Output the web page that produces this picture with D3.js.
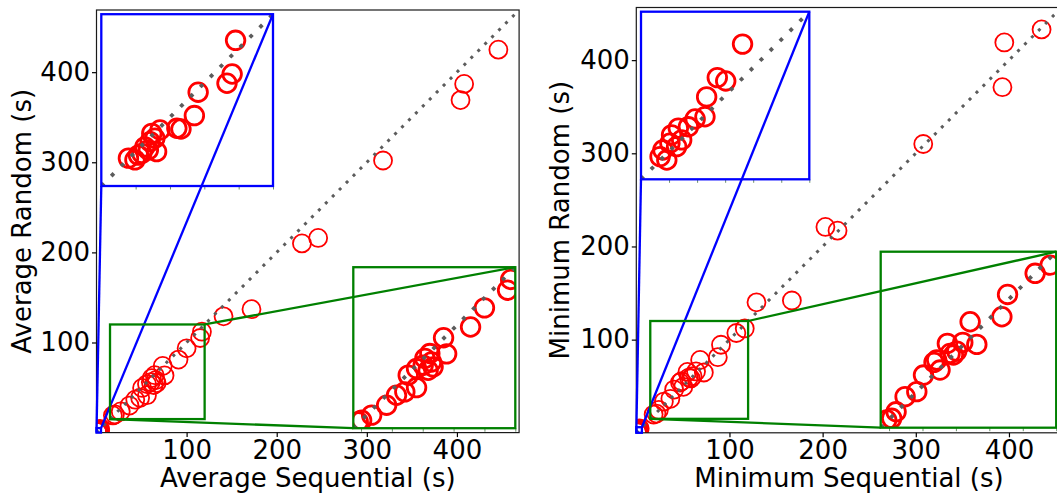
<!DOCTYPE html>
<html><head><meta charset="utf-8">
<script src="https://cdn.jsdelivr.net/npm/d3@7"></script>
<style>body{margin:0;background:#fff;} svg{display:block;font-family:"DejaVu Sans",sans-serif;}</style>
</head><body><svg id="c" width="1057" height="498"></svg>
<script>
// ---- data (seconds) ----
const avgSeq  = [446,408,404,318,228,246,172,141,
  117,115,100,91,73.5,75.5,64.6,61.4,65.7,60.3,66.7,56,63.5,50.6,56,48.4,43,36.6,26.9,20.4,18.2,
  3.91,3.81,3.66,2.82,2.71,2.2,2.32,1.71,1.61,1.47,1.56,1.42,1.27,1.37,1.18,1.08,0.98,0.79];
const avgRand = [425,387,369,302,210,216,137,129,
  112,105,93.5,81,74,63.5,63.7,60.5,58.2,56.1,55,53.9,52.8,49.6,41.5,38.7,36.5,30,23.5,20.2,19.1,
  4.24,3.26,2.99,2.73,2.05,1.68,1.66,1.63,1.0,1.53,1.39,1.29,1.14,1.05,0.95,0.90,0.76,0.81];
const minSeq  = [435,395,393,308,203,216,129,167,
  116.4,107.4,90.9,87.5,68.5,72.5,64.1,54.9,60.5,56.5,58.5,48.5,46.9,50.5,40.6,36.6,29.6,24.2,18.6,21.6,
  3.62,2.72,3.02,2.34,2.28,1.93,1.69,1.33,1.45,1.09,1.03,1.27,0.78,0.92,0.68];
const minRand = [433,419,371,310,221,217,140,142,
  112,107.1,94.5,81.2,78.2,64.7,65.9,65.3,60.7,59.3,58.4,55.4,54,49.4,46.4,36.5,33.5,24.5,19.6,20.6,
  4.84,3.64,3.52,2.95,2.24,2.16,1.88,1.83,1.41,1.59,1.29,1.17,1.05,0.69,0.81];
const mainTicks = [100,200,300,400];
const blueTicksAvg = [1,2,3,4,5];
const blueTicksMin = [1,2,3,4,5,6];
const greenTicks = [20,40,60,80,100,120];
const blueRangeAvg = [0,5];
const blueRangeMin = [0,6];
const greenRange = [15,120];
const xLabels = ["Average Sequential (s)","Minimum Sequential (s)"];
const yLabels = ["Average Random (s)","Minimum Random (s)"];
const axisMax = [469,456.5];

// ---- layout ----
const layout = [
  {left:96.5, top:10, size:422.6, labelX:31, blueBox:[101.3,14.2,171.7,171.8], greenBox:[353.3,267.2,162,161]},
  {left:636.3, top:7.5, size:425.3, labelX:569, blueBox:[641,11.7,168.3,167.6], greenBox:[880.7,251.7,175.5,176]}
];
const panels = [
  {seq:avgSeq, rand:avgRand, max:axisMax[0], xl:xLabels[0], yl:yLabels[0], blueRange:blueRangeAvg, blueTicks:blueTicksAvg},
  {seq:minSeq, rand:minRand, max:axisMax[1], xl:xLabels[1], yl:yLabels[1], blueRange:blueRangeMin, blueTicks:blueTicksMin}
];

const svg = d3.select("#c");
const defs = svg.append("defs");
const RED = "#ff0000", DOT = "#5c5c5c", BLUE = "#0000ff", GREEN = "#008000";

function scatter(g, x, y, p, r, sw, lo, hi, dotW, dotGap) {
  g.selectAll("circle").data(d3.range(p.seq.length)).join("circle")
    .attr("cx", k => x(p.seq[k])).attr("cy", k => y(p.rand[k]))
    .attr("r", r).attr("fill", "none").attr("stroke", RED).attr("stroke-width", sw);
  g.append("line").attr("x1", x(lo)).attr("y1", y(lo)).attr("x2", x(hi)).attr("y2", y(hi))
    .attr("stroke", DOT).attr("stroke-width", dotW).attr("stroke-dasharray", dotW + "," + dotGap)
    .attr("stroke-linecap", "butt");
}

function markInset(g, x, y, range, box, color) {
  const [a, b] = range;
  g.append("rect").attr("x", x(a)).attr("y", y(b)).attr("width", x(b) - x(a)).attr("height", y(a) - y(b))
    .attr("fill", "none").attr("stroke", color).attr("stroke-width", 2.3);
  g.append("line").attr("x1", x(b)).attr("y1", y(b)).attr("x2", box[0] + box[2]).attr("y2", box[1])
    .attr("stroke", color).attr("stroke-width", 2.3);
  g.append("line").attr("x1", x(a)).attr("y1", y(a)).attr("x2", box[0]).attr("y2", box[1] + box[3])
    .attr("stroke", color).attr("stroke-width", 2.3);
}

function drawInset(g, p, range, ticks, box, color, id) {
  const xi = d3.scaleLinear().domain(range).range([box[0], box[0] + box[2]]);
  const yi = d3.scaleLinear().domain(range).range([box[1] + box[3], box[1]]);
  defs.append("clipPath").attr("id", id).append("rect")
    .attr("x", box[0]).attr("y", box[1]).attr("width", box[2]).attr("height", box[3]);
  g.append("rect").attr("x", box[0]).attr("y", box[1]).attr("width", box[2]).attr("height", box[3]).attr("fill", "#fff");
  const pg = g.append("g").attr("clip-path", `url(#${id})`);
  scatter(pg, xi, yi, p, 9.3, 2.8, range[0], range[1], 3.8, 10.2);
  const ax = g.append("g").attr("transform", `translate(0,${box[1] + box[3]})`)
    .call(d3.axisBottom(xi).tickValues(ticks).tickSize(3.5).tickFormat(""));
  ax.select(".domain").remove();
  ax.selectAll("line").attr("stroke", "#6a8f6a").attr("stroke-width", 1);
  g.append("rect").attr("x", box[0]).attr("y", box[1]).attr("width", box[2]).attr("height", box[3])
    .attr("fill", "none").attr("stroke", color).attr("stroke-width", 2.3);
}

panels.forEach((p, i) => {
  const L = layout[i];
  const g = svg.append("g");
  const x = d3.scaleLinear().domain([0, p.max]).range([L.left, L.left + L.size]);
  const y = d3.scaleLinear().domain([0, p.max]).range([L.top + L.size, L.top]);
  const cid = "clipMain" + i;
  defs.append("clipPath").attr("id", cid).append("rect")
    .attr("x", L.left).attr("y", L.top).attr("width", L.size).attr("height", L.size);
  const plot = g.append("g").attr("clip-path", `url(#${cid})`);
  scatter(plot, x, y, p, 9, 1.8, 0, p.max, 3, 6.8);

  g.append("rect").attr("x", L.left).attr("y", L.top).attr("width", L.size).attr("height", L.size)
    .attr("fill", "none").attr("stroke", "#1a1a1a").attr("stroke-width", 1.2);

  const xa = g.append("g").attr("transform", `translate(0,${L.top + L.size})`)
    .call(d3.axisBottom(x).tickValues(mainTicks).tickSize(4.5).tickPadding(3).tickFormat(d3.format("d")));
  const ya = g.append("g").attr("transform", `translate(${L.left},0)`)
    .call(d3.axisLeft(y).tickValues(mainTicks).tickSize(4.5).tickPadding(2).tickFormat(d3.format("d")));
  [xa, ya].forEach(a => {
    a.select(".domain").remove();
    a.selectAll("line").attr("stroke", "#000").attr("stroke-width", 1.2);
    a.selectAll("text").attr("fill", "#000").style("font-size", "26px").style("font-family", "DejaVu Sans");
  });

  g.append("text").attr("x", L.left + L.size / 2).attr("y", 487).attr("text-anchor", "middle")
    .style("font-size", "26px").attr("fill", "#000").text(p.xl);
  g.append("text").attr("transform", `translate(${L.labelX},${L.top + L.size / 2}) rotate(-90)`)
    .attr("text-anchor", "middle").style("font-size", "26px").attr("fill", "#000").text(p.yl);

  drawInset(g, p, p.blueRange, p.blueTicks, L.blueBox, BLUE, "clipB" + i);
  drawInset(g, p, greenRange, greenTicks, L.greenBox, GREEN, "clipG" + i);
  markInset(g, x, y, p.blueRange, L.blueBox, BLUE);
  markInset(g, x, y, greenRange, L.greenBox, GREEN);
});
</script></body></html>
